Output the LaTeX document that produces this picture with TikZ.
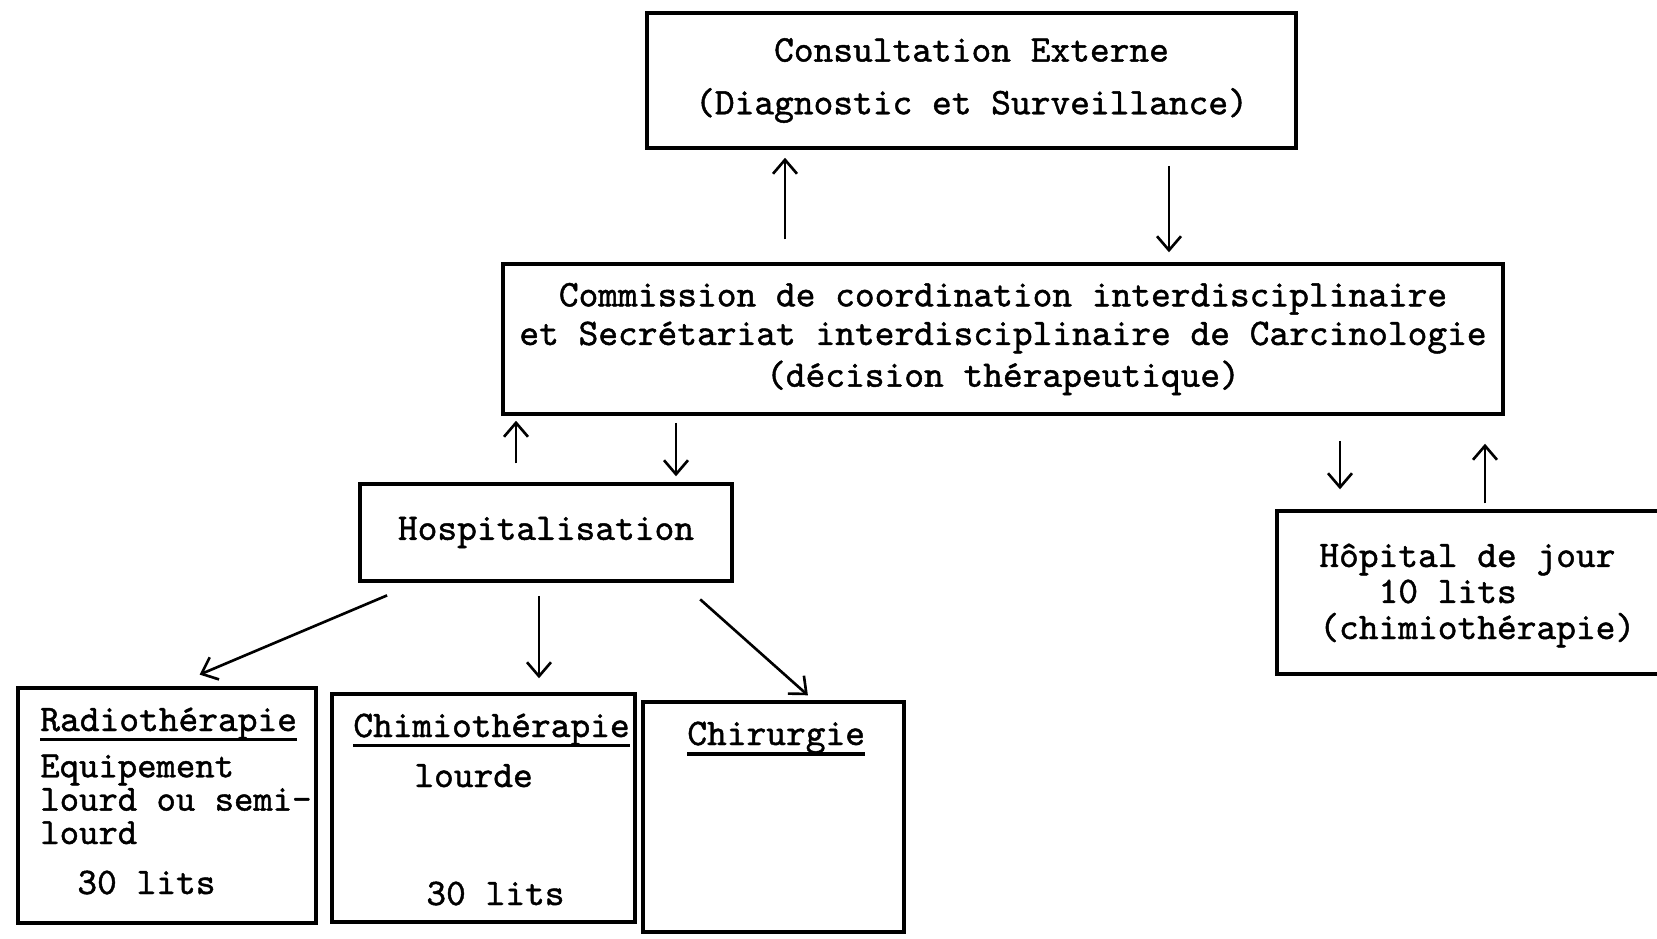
\documentclass[tikz,border=0pt]{standalone}
\usepackage{fontspec}
\usetikzlibrary{arrows.meta}
\newfontfamily\typew{lmmono10-regular}[Extension=.otf, FakeBold=1.2]
\begin{document}
\begin{tikzpicture}[x=0.02cm, y=-0.02cm]
    \tikzstyle{every node}=[inner sep=0pt, font=\typew\fontsize{21.4}{19}\selectfont, text=black]
    \tikzstyle{box}=[rectangle, draw=black, line width=2pt]
    \tikzstyle{edge}=[black, line width=1.5pt, -{Straight Barb[length=0.28cm, width=0.48cm]}]
    \tikzstyle{txt}=[anchor=base west, align=left]
    \tikzstyle{underl}=[black, line width=2pt]

    \fill[white] (0,0) rectangle (1657,938);
    \useasboundingbox (0,0) rectangle (1657,938);
    \clip (0,0) rectangle (1657,938);

    % upper boxes
    \node[box, minimum width=12.98cm, minimum height=2.7cm, align=center] (cons) at (971.5,80.5)
        {Consultation Externe\\[11pt](Diagnostic et Surveillance)};
    \node[box, minimum width=20cm, minimum height=3cm, align=center] (comm) at (1003,339)
        {Commission de coordination interdisciplinaire\\[3pt]et Secrétariat interdisciplinaire de Carcinologie\\[3pt](décision thérapeutique)};
    \node[box, minimum width=7.44cm, minimum height=1.94cm] (hosp) at (546,532.5) {Hospitalisation};
    \node[box, minimum width=8.06cm, minimum height=3.26cm] (jour) at (1478.5,592.5) {};
    % base of a text of several lines = base of its last line
    \node[txt, font=\typew\fontsize{21.4}{20.5}\selectfont] (jourtxt) at (1319,639)
        {Hôpital de jour\\\hphantom{000}10 lits\\(chimiothérapie)};

    % lower boxes
    \node[box, minimum width=5.96cm, minimum height=4.7cm] (radio) at (167,805.5) {};
    \node[box, minimum width=6.06cm, minimum height=4.56cm] (chimio) at (483.5,808) {};
    \node[box, minimum width=5.22cm, minimum height=4.6cm] (chir) at (773.5,817) {};

    \node[txt] (radiotitle) at (40,731) {Radiothérapie};
    \node[txt, font=\typew\fontsize{21}{19}\selectfont] (radiotxt) at (40,844) {Equipement\\lourd ou semi-\\lourd};
    \node[txt] (radiolits) at (77,894) {30 lits};
    \node[txt] (chimiotitle) at (353,737) {Chimiothérapie};
    \node[txt] (chimiotxt) at (414,787) {lourde};
    \node[txt] (chimiolits) at (426,905) {30 lits};
    \node[txt] (chirtitle) at (687,745) {Chirurgie};

    \draw[underl] (radiotitle.south west) -- (radiotitle.south east);
    \draw[underl] (chimiotitle.south west) -- (chimiotitle.south east);
    \draw[underl] (chirtitle.south west) -- (chirtitle.south east);

    % arrows
    \draw[edge, shorten <=0.46cm, shorten >=0.16cm] (comm.north -| 785,0) -- (cons.south -| 785,0);
    \draw[edge, shorten <=0.32cm, shorten >=0.2cm] (cons.south -| 1169,0) -- (comm.north -| 1169,0);
    \draw[edge, shorten <=0.38cm, shorten >=0.1cm] (hosp.north -| 516,0) -- (comm.south -| 516,0);
    \draw[edge, shorten <=0.14cm, shorten >=0.12cm] (comm.south -| 676,0) -- (hosp.north -| 676,0);
    \draw[edge, shorten <=0.5cm, shorten >=0.4cm] (comm.south -| 1340,0) -- (jour.north -| 1340,0);
    \draw[edge, shorten <=0.12cm, shorten >=0.56cm] (jour.north -| 1485,0) -- (comm.south -| 1485,0);

    \draw[edge, shorten <=0.65cm, shorten >=0.6cm] (hosp.south -| 417,0) -- (radio.north -| 172,0);
    \draw[edge, shorten <=0.26cm, shorten >=0.28cm] (hosp.south -| 539,0) -- (chimio.north -| 539,0);
    \draw[edge, shorten <=0.5cm, shorten >=0.15cm] (hosp.south -| 681.5,0) -- (chir.north -| 813.5,0);
\end{tikzpicture}
\end{document}
